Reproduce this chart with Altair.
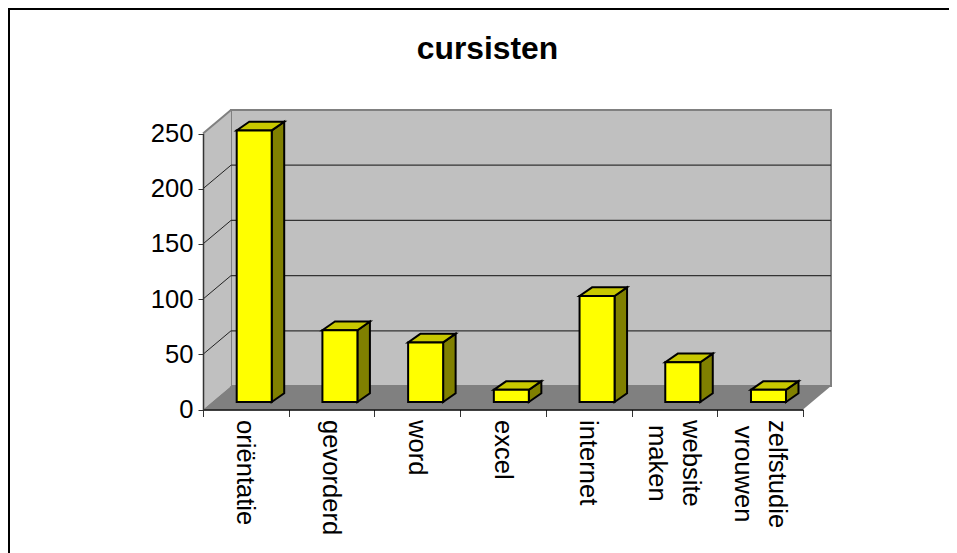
import altair as alt
import pandas as pd

chart_title = "cursisten"
categories = ["oriëntatie", "gevorderd", "word", "excel", "internet", "website\nmaken", "zelfstudie\nvrouwen"]
values = [246, 65, 54, 11, 96, 36, 11]
y_ticks = [0, 50, 100, 150, 200, 250]
inner_grid = [50, 100, 150, 200]

FONT = "Liberation Sans"
W, H = 941, 545
N = len(categories)
Y0 = 401.5
x_scale = alt.Scale(domain=[0, N], range=[195, 795], nice=False, zero=False)
y_scale = alt.Scale(domain=[0, 250], range=[Y0, 125.5], nice=False, zero=False)

PX_X = 600 / N      # pixels per category
PX_Y = 276 / 250    # pixels per unit
DEPTH_X = 28 / PX_X
DEPTH_Y = 23.5 / PX_Y
BAR_LEFT = 33.7 / PX_X
BAR_W = 35 / PX_X
BAR_DX = 12.5 / PX_X
BAR_DY = 8.7 / PX_Y
BAR_BASE = 7.5 / PX_Y

GREY = "#808080"
WALL = "#C0C0C0"

x_axis = alt.Axis(values=list(range(N + 1)), labels=False, ticks=True, tickSize=7, tickColor="#333333",
                  tickWidth=1, domainColor="#000000", domainWidth=1.6, grid=False, title=None,
                  offset=-(H - Y0), zindex=1)
y_axis = alt.Axis(values=y_ticks, tickSize=5, tickColor="#333333", tickWidth=1, domainColor="#333333",
                  domainWidth=1.5, grid=False, title=None, labelFont=FONT, labelFontSize=25.6,
                  labelColor="#000000", labelPadding=5, offset=-195, zindex=1)

X = lambda f="x": alt.X(f"{f}:Q", scale=x_scale, axis=x_axis, title=None)
Y = lambda f="y": alt.Y(f"{f}:Q", scale=y_scale, axis=y_axis, title=None)

back = alt.Chart(pd.DataFrame({"x": [DEPTH_X], "x2": [N + DEPTH_X], "y": [DEPTH_Y], "y2": [250 + DEPTH_Y]})).mark_rect(
    fill=WALL, stroke=GREY, strokeWidth=2
).encode(x=X(), x2="x2:Q", y=Y(), y2="y2:Q")

left_wall = alt.Chart(pd.DataFrame({"x": [0, DEPTH_X], "y": [0, DEPTH_Y], "y2": [250, 250 + DEPTH_Y]})).mark_area(
    color=WALL, opacity=1
).encode(x=X(), y=Y(), y2="y2:Q")

floor = alt.Chart(pd.DataFrame({"y": [0, DEPTH_Y], "x": [0, DEPTH_X], "x2": [N, N + DEPTH_X]})).mark_area(
    orient="horizontal", color=GREY, opacity=1
).encode(y=Y(), x=X(), x2="x2:Q")

grid_back = alt.Chart(pd.DataFrame({"x": [DEPTH_X] * 4, "x2": [N + DEPTH_X] * 4,
                                    "y": [g + DEPTH_Y for g in inner_grid]})).mark_rule(
    color="#333333", strokeWidth=1.2
).encode(x=X(), x2="x2:Q", y=Y())

diag_rows = []
for g in inner_grid:
    diag_rows += [{"g": g, "x": 0, "y": g}, {"g": g, "x": DEPTH_X, "y": g + DEPTH_Y}]
grid_diag = alt.Chart(pd.DataFrame(diag_rows)).mark_line(color="#222222", strokeWidth=1).encode(
    x=X(), y=Y(), detail="g:N"
)
top_diag = alt.Chart(pd.DataFrame({"x": [0, DEPTH_X], "y": [250, 250 + DEPTH_Y]})).mark_line(
    color=GREY, strokeWidth=2
).encode(x=X(), y=Y())

# bars
front_rows, side_rows, top_rows = [], [], []
for i, v in enumerate(values):
    l = i + BAR_LEFT
    r = l + BAR_W
    front_rows.append({"i": i, "x": l, "x2": r, "y": BAR_BASE, "y2": BAR_BASE + v})
    side_rows += [
        {"i": i, "x": r, "y": BAR_BASE, "y2": BAR_BASE + v},
        {"i": i, "x": r + BAR_DX, "y": BAR_BASE + BAR_DY, "y2": BAR_BASE + BAR_DY + v},
    ]
    top_rows += [
        {"i": i, "y": BAR_BASE + v, "x": l, "x2": r},
        {"i": i, "y": BAR_BASE + v + BAR_DY, "x": l + BAR_DX, "x2": r + BAR_DX},
    ]

side = alt.Chart(pd.DataFrame(side_rows)).mark_area(
    fill="#808000", stroke="#000000", strokeWidth=2, opacity=1
).encode(x=X(), y=Y(), y2="y2:Q", detail="i:N")
top = alt.Chart(pd.DataFrame(top_rows)).mark_area(
    orient="horizontal", fill="#C8C800", stroke="#000000", strokeWidth=2, opacity=1
).encode(y=Y(), x=X(), x2="x2:Q", detail="i:N")
front = alt.Chart(pd.DataFrame(front_rows)).mark_rect(
    fill="#FFFF00", stroke="#000000", strokeWidth=2
).encode(x=X(), x2="x2:Q", y=Y(), y2="y2:Q")

# category labels: each block starts just below the axis, lines centred on each other
CHAR_W = {"o": .556, "r": .333, "i": .222, "ë": .556, "n": .556, "t": .278, "a": .556, "e": .556,
          "g": .556, "v": .5, "d": .556, "w": .722, "x": .5, "c": .5, "l": .222, "b": .556,
          "s": .5, "m": .833, "k": .5, "z": .5, "f": .278, "u": .556}
LABEL_SIZE = 25.6
LABEL_TOP = 412
LINE_H = 34
def text_len(s):
    return max(sum(CHAR_W[c] for c in line) for line in s.split("\n")) * LABEL_SIZE

label_df = pd.DataFrame({
    "x": [i + 0.5 + c.count("\n") * (LINE_H / 2) / PX_X - 0.5 / PX_X for i, c in enumerate(categories)],
    "label": categories,
    "mid": [(Y0 - (LABEL_TOP + text_len(c) / 2)) / PX_Y for c in categories],
})
labels = alt.Chart(label_df).mark_text(
    font=FONT, fontSize=LABEL_SIZE, angle=90, align="center", baseline="middle",
    lineBreak="\n", lineHeight=LINE_H, color="#000000"
).encode(x=X(), y=Y("mid"), text="label:N")

one = alt.Data(values=[{"t": chart_title}])
title = alt.Chart(one).mark_text(
    font=FONT, fontSize=31.8, fontWeight="bold", align="center", baseline="alphabetic", color="#000000"
).encode(x=alt.value(479.5), y=alt.value(51), text="t:N")

border_top = alt.Chart(one).mark_rule(color="#000000", strokeWidth=4).encode(
    x=alt.value(0), x2=alt.value(W), y=alt.value(0))
border_left = alt.Chart(one).mark_rule(color="#000000", strokeWidth=4).encode(
    x=alt.value(0), y=alt.value(0), y2=alt.value(H))

chart = alt.layer(
    back, left_wall, floor, grid_back, grid_diag, top_diag, side, top, front, labels, title, border_top, border_left
).properties(width=W, height=H, padding=0, autosize=alt.AutoSizeParams(type="none"), background="#FFFFFF"
).configure_view(stroke=None)

chart.save("out.html", embed_options={"renderer": "svg", "actions": False})
